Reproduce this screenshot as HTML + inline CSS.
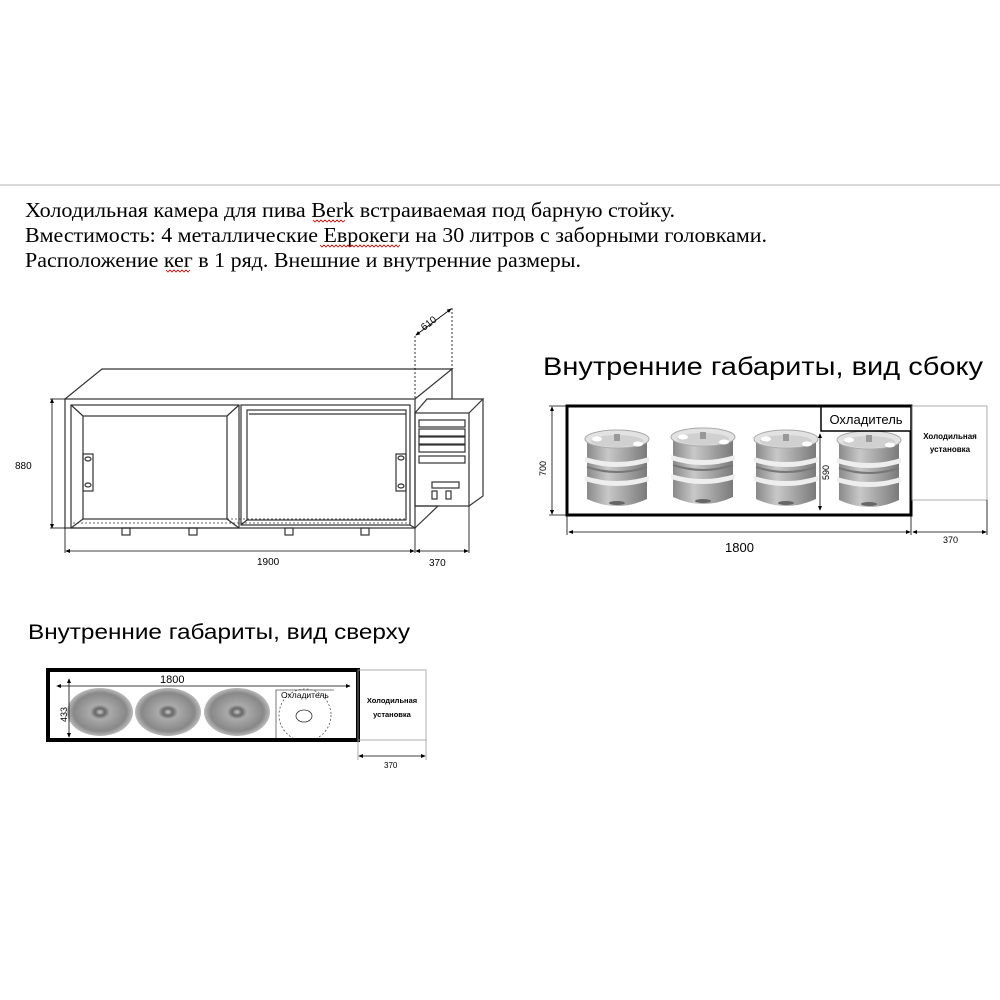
<!DOCTYPE html>
<html><head><meta charset="utf-8"><style>
html,body{margin:0;padding:0;background:#fff;}
svg{display:block;}
</style></head><body>
<svg width="1000" height="1000" viewBox="0 0 1000 1000" xmlns="http://www.w3.org/2000/svg">
<defs>
<marker id="a" markerWidth="6" markerHeight="6" refX="5" refY="3" orient="auto-start-reverse"><path d="M0,0.5 L6,3 L0,5.5z" fill="#000"/></marker>
<linearGradient id="kg" x1="0" x2="1"><stop offset="0" stop-color="#8a8a8a"/><stop offset="0.35" stop-color="#c8c8c8"/><stop offset="0.6" stop-color="#aaa"/><stop offset="1" stop-color="#7a7a7a"/></linearGradient>
<radialGradient id="tg"><stop offset="0" stop-color="#c9c9c9"/><stop offset="0.15" stop-color="#666"/><stop offset="0.3" stop-color="#aaa"/><stop offset="0.8" stop-color="#888"/><stop offset="1" stop-color="#bbb"/></radialGradient>
<g id="keg">
<path d="M-30,8 L-30,68 Q0,82 30,68 L30,8z" fill="url(#kg)"/>
<ellipse cx="0" cy="8" rx="32" ry="9" fill="#e2e2e2" stroke="#aaa"/>
<ellipse cx="0" cy="10" rx="26" ry="6" fill="#d0d0d0"/>
<rect x="-3" y="3" width="6" height="7" fill="#999"/>
<ellipse cx="-20" cy="8" rx="5" ry="2.5" fill="#fff"/>
<ellipse cx="21" cy="13" rx="5" ry="2.5" fill="#fff"/>
<path d="M-32,26 Q0,36 32,26 L32,31 Q0,41 -32,31z" fill="#eee"/>
<path d="M-32,45 Q0,55 32,45 L32,50 Q0,60 -32,50z" fill="#eee"/>
<path d="M-30,36 Q0,46 30,36" fill="none" stroke="#777" stroke-width="2"/>
<ellipse cx="0" cy="72" rx="8" ry="2" fill="#666"/>
</g>
</defs>
<line x1="0" y1="185" x2="1000" y2="185" stroke="#ccc" stroke-width="1.5"/>
<g font-family="Liberation Serif, serif" font-size="21" fill="#000">
<text x="25" y="217" textLength="650" lengthAdjust="spacingAndGlyphs">Холодильная камера для пива Berk встраиваемая под барную стойку.</text>
<text x="25" y="242" textLength="742" lengthAdjust="spacingAndGlyphs">Вместимость: 4 металлические Еврокеги на 30 литров с заборными головками.</text>
<text x="25" y="267" textLength="556" lengthAdjust="spacingAndGlyphs">Расположение кег в 1 ряд. Внешние и внутренние размеры.</text>
</g>
<g stroke="#c00" stroke-width="0.8" fill="none">
<path d="M313,220 l2,2 2,-2 2,2 2,-2 2,2 2,-2 2,2 2,-2 2,2 2,-2 2,2 2,-2 2,2 2,-2 2,2 2,-2"/>
<path d="M320,245 l2,2 2,-2 2,2 2,-2 2,2 2,-2 2,2 2,-2 2,2 2,-2 2,2 2,-2 2,2 2,-2 2,2 2,-2 2,2 2,-2 2,2 2,-2 2,2 2,-2 2,2 2,-2 2,2 2,-2 2,2 2,-2 2,2 2,-2 2,2 2,-2 2,2 2,-2 2,2 2,-2 2,2 2,-2 2,2 2,-2"/>
<path d="M166,270 l2,2 2,-2 2,2 2,-2 2,2 2,-2 2,2 2,-2 2,2 2,-2 2,2 2,-2"/>
</g>
<!-- front view -->
<g fill="none" stroke="#333" stroke-width="1.2">
<path d="M65,399 L102,369 L452,369 L415,399 M452,369 L452,399"/>
<rect x="65" y="399" width="350" height="129"/>
<rect x="71" y="405" width="168" height="123"/>
<rect x="83" y="416" width="144" height="103"/>
<path d="M71,405 L83,416 M239,405 L227,416 M71,528 L83,519 M239,528 L227,519"/>
<rect x="241" y="405" width="169" height="120"/>
<rect x="247" y="410" width="159" height="110"/>
<line x1="249" y1="414" x2="406" y2="414"/>
<path d="M410,525 L415,528 M241,525 L247,520"/>
<line x1="83" y1="519" x2="406" y2="519" stroke-dasharray="2,2" stroke-width="0.8"/>
<line x1="73" y1="523" x2="410" y2="523" stroke-dasharray="2,2" stroke-width="0.8"/>
<rect x="83" y="454" width="10" height="37"/>
<ellipse cx="88" cy="459" rx="3" ry="2"/><ellipse cx="88" cy="485" rx="3" ry="2"/>
<rect x="396" y="454" width="10" height="37"/>
<ellipse cx="401" cy="458" rx="3" ry="2"/><ellipse cx="401" cy="486" rx="3" ry="2"/>
<rect x="415" y="413" width="54" height="93"/>
<path d="M415,413 L427,399 L483,399 L469,413 M483,399 L483,496 L469,506 M415,506 L438,506 L415,528"/>
<rect x="419" y="420" width="46" height="7"/><rect x="419" y="429" width="46" height="7"/>
<rect x="419" y="437" width="46" height="7"/><rect x="419" y="445" width="46" height="7"/>
<rect x="419" y="456" width="46" height="7"/>
<rect x="432" y="482" width="27" height="6"/>
<rect x="432" y="491" width="5" height="8"/><rect x="446" y="491" width="5" height="8"/>
<rect x="122" y="528" width="8" height="7"/><rect x="189" y="528" width="8" height="7"/>
<rect x="285" y="528" width="8" height="7"/><rect x="361" y="528" width="8" height="7"/>
</g>
<g stroke="#000" stroke-width="0.8" fill="none">
<line x1="52" y1="399" x2="52" y2="528" marker-start="url(#a)" marker-end="url(#a)"/>
<line x1="50" y1="399" x2="65" y2="399"/><line x1="50" y1="528" x2="65" y2="528"/>
<line x1="65" y1="528" x2="65" y2="553"/><line x1="415" y1="528" x2="415" y2="553"/><line x1="469" y1="506" x2="469" y2="553"/>
<line x1="66" y1="551" x2="414" y2="551" marker-start="url(#a)" marker-end="url(#a)"/>
<line x1="416" y1="551" x2="468" y2="551" marker-start="url(#a)" marker-end="url(#a)"/>
<line x1="415" y1="336" x2="415" y2="399" stroke-dasharray="2,2"/>
<line x1="452" y1="308" x2="452" y2="369" stroke-dasharray="2,2"/>
<line x1="416" y1="335" x2="451" y2="309" marker-start="url(#a)" marker-end="url(#a)"/>
</g>
<g font-family="Liberation Sans, sans-serif" font-size="10" fill="#000">
<text x="15" y="469">880</text>
<text x="257" y="565">1900</text>
<text x="429" y="566">370</text>
<text x="0" y="0" transform="translate(424,331) rotate(-37)">610</text>
</g>
<!-- side view -->
<text x="543" y="375" font-family="Liberation Sans, sans-serif" font-size="25" fill="#000" textLength="440" lengthAdjust="spacingAndGlyphs">Внутренние габариты, вид сбоку</text>
<use href="#keg" x="617" y="431"/>
<use href="#keg" x="703" y="429"/>
<use href="#keg" x="786" y="431"/>
<use href="#keg" x="869" y="432"/>
<rect x="567" y="406" width="344" height="109" fill="none" stroke="#000" stroke-width="3"/>
<rect x="821" y="406" width="90" height="25" fill="#fff" stroke="#000" stroke-width="1.5"/>
<path d="M821,406 L911,406" stroke="#000" stroke-width="3"/>
<text x="866" y="424" font-family="Liberation Sans, sans-serif" font-size="13" text-anchor="middle">Охладитель</text>
<rect x="912" y="406" width="75" height="94" fill="none" stroke="#999" stroke-width="0.8"/>
<g font-family="Liberation Sans, sans-serif" font-size="8" font-weight="bold" text-anchor="middle">
<text x="950" y="439">Холодильная</text><text x="950" y="452">установка</text>
</g>
<g stroke="#000" stroke-width="0.8" fill="none">
<line x1="552" y1="407" x2="552" y2="514" marker-start="url(#a)" marker-end="url(#a)"/>
<line x1="549" y1="406" x2="567" y2="406"/><line x1="549" y1="515" x2="567" y2="515"/>
<line x1="820" y1="434" x2="820" y2="510" marker-start="url(#a)" marker-end="url(#a)"/>
<line x1="567" y1="515" x2="567" y2="535"/><line x1="911" y1="515" x2="911" y2="535"/><line x1="987" y1="500" x2="987" y2="535"/>
<line x1="569" y1="532" x2="910" y2="532" marker-start="url(#a)" marker-end="url(#a)"/>
<line x1="913" y1="532" x2="986" y2="532" marker-start="url(#a)" marker-end="url(#a)"/>
</g>
<g font-family="Liberation Sans, sans-serif" font-size="9">
<text transform="translate(546,476) rotate(-90)">700</text>
<text transform="translate(829,480) rotate(-90)">590</text>
<text x="943" y="543">370</text>
<text x="725" y="552" font-size="13">1800</text>
</g>
<!-- top view -->
<text x="28" y="639" font-family="Liberation Sans, sans-serif" font-size="21" fill="#000" textLength="382" lengthAdjust="spacingAndGlyphs">Внутренние габариты, вид сверху</text>
<ellipse cx="100" cy="712" rx="33" ry="24" fill="url(#tg)"/>
<ellipse cx="168" cy="712" rx="33" ry="24" fill="url(#tg)"/>
<ellipse cx="237" cy="712" rx="33" ry="24" fill="url(#tg)"/>
<path d="M276,738 L276,690 L334,690" fill="none" stroke="#555" stroke-width="0.8"/>
<circle cx="305" cy="715" r="26" fill="none" stroke="#555" stroke-width="0.8" stroke-dasharray="2,2"/>
<ellipse cx="304" cy="716" rx="8" ry="6" fill="none" stroke="#333" stroke-width="0.8"/>
<text x="281" y="698" font-family="Liberation Sans, sans-serif" font-size="8.5">Охладитель</text>
<rect x="48" y="670" width="310" height="70" fill="none" stroke="#000" stroke-width="4"/>
<rect x="358" y="670" width="68" height="70" fill="none" stroke="#999" stroke-width="0.8"/>
<g font-family="Liberation Sans, sans-serif" font-size="7.5" font-weight="bold" text-anchor="middle">
<text x="392" y="703">Холодильная</text><text x="392" y="717">установка</text>
</g>
<g stroke="#000" stroke-width="0.8" fill="none">
<line x1="57" y1="686" x2="350" y2="686" marker-start="url(#a)" marker-end="url(#a)"/>
<line x1="69" y1="679" x2="69" y2="737" marker-start="url(#a)" marker-end="url(#a)"/>
<line x1="358" y1="740" x2="358" y2="760" stroke="#999"/><line x1="426" y1="740" x2="426" y2="760" stroke="#999"/>
<line x1="359" y1="756" x2="425" y2="756" marker-start="url(#a)" marker-end="url(#a)"/>
</g>
<g font-family="Liberation Sans, sans-serif">
<text x="160" y="683" font-size="11">1800</text>
<text transform="translate(67,722) rotate(-90)" font-size="9">433</text>
<text x="384" y="768" font-size="8">370</text>
</g>
</svg>
</body></html>
